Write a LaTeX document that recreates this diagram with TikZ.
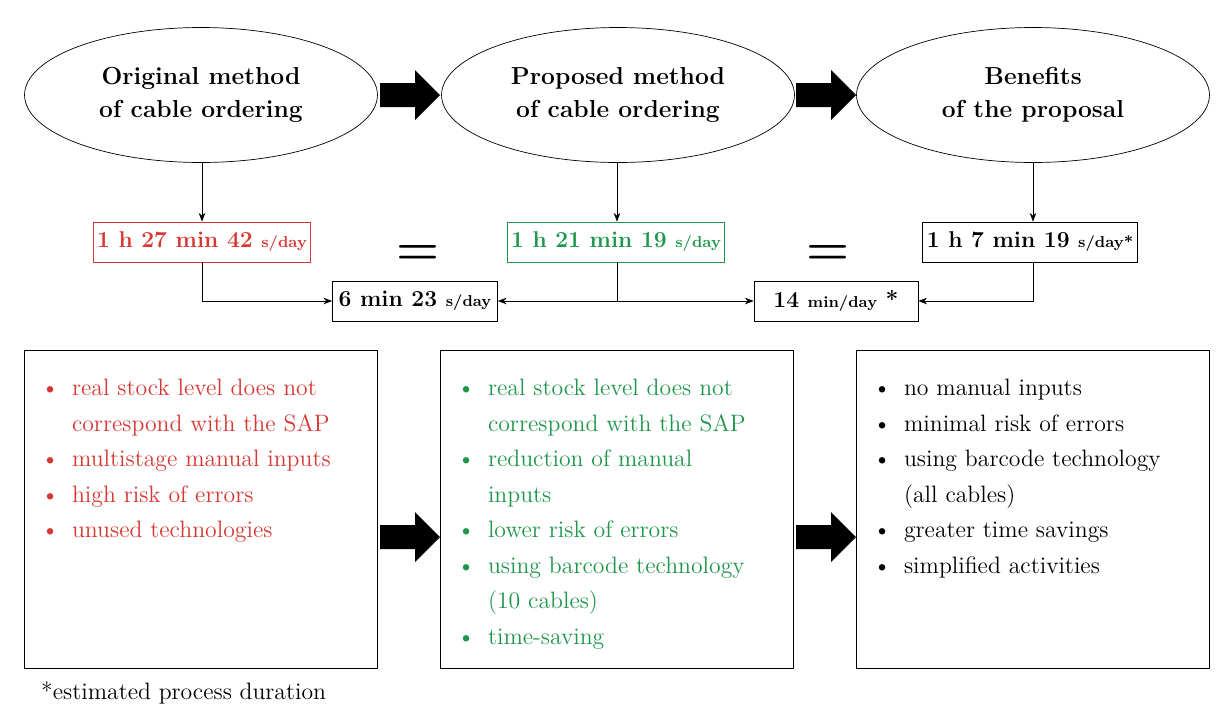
\documentclass[tikz,border=0pt]{standalone}
\usetikzlibrary{shapes.geometric,arrows.meta}
\definecolor{rd}{RGB}{215,55,50}
\definecolor{gn}{RGB}{30,150,75}
\hyphenpenalty=10000
\exhyphenpenalty=10000
\newcommand\itm[1]{\par\hangindent=1.3em\hangafter=1\makebox[1.3em][l]{\textbullet}#1}
\begin{document}
\begin{tikzpicture}[x=0.02cm,y=-0.02cm,
  ell/.style={draw,ellipse,minimum width=7.06cm,minimum height=2.7cm,inner sep=0pt,align=center,font=\fontsize{14}{19}\selectfont\bfseries},
  tbox/.style={draw,minimum height=0.8cm,font=\fontsize{13}{15}\selectfont\bfseries,inner sep=2pt},
  big/.style={draw,minimum width=7.06cm,minimum height=6.36cm},
  lst/.style={text width=6.5cm,align=left,anchor=north west,font=\fontsize{13.5}{20.2}\selectfont},
  con/.style={-{Stealth[length=5pt]},line width=0.4pt}]
\useasboundingbox (0,0) rectangle (1231,718);
\tikzset{bar/.pic={\fill (-29,-12) -- (6,-12) -- (6,-25) -- (31,0) -- (6,25) -- (6,12) -- (-29,12) -- cycle;}}
\node[ell] (e1) at (201,95) {Original method\\of cable ordering};
\node[ell] (e2) at (618,95) {Proposed method\\of cable ordering};
\node[ell] (e3) at (1033,95) {Benefits\\of the proposal};
\pic at (409,95) {bar};
\pic at (825,95) {bar};
\node[tbox,draw=rd,text=rd,minimum width=4.16cm] (t1) at (202,242) {1 h 27 min 42 {\small s/day}};
\node[tbox,draw=gn,text=gn,minimum width=4.18cm] (t2) at (616,242) {1 h 21 min 19 {\small s/day}};
\node[tbox,minimum width=4.3cm] (t3) at (1030,242) {1 h 7 min 19 {\small s/day*}};
\node[tbox,minimum width=3.3cm] (s1) at (415,301) {6 min 23 {\small s/day}};
\node[tbox,minimum width=3.28cm] (s2) at (836,301) {14 {\small min/day} *};
\node[font=\fontsize{28}{28}\selectfont\bfseries] (q1) at (418,255) {=};
\node[font=\fontsize{28}{28}\selectfont\bfseries] (q2) at (828,255) {=};
\coordinate (c1) at (202,162);
\coordinate (c2) at (617,162);
\coordinate (c3) at (1033,162);
\draw[con] (c1) -- (t1.north);
\draw[con] (c2) -- (t2.north -| c2);
\draw[con] (c3) -- (t3.north -| c3);
\draw[con] (t1.south) |- (s1.west);
\draw[con] (t2.south -| c2) |- (s1.east);
\draw[con] (t2.south -| c2) |- (s2.west);
\draw[con] (t3.south -| c3) |- (s2.east);
\node[big] (b1) at (201,509) {};
\node[big] (b2) at (617,509) {};
\node[big] (b3) at (1033,509) {};
\node[lst,text=rd] (l1) at (35,354) {\itm{real stock level does not correspond with the SAP}\itm{multistage manual inputs}\itm{high risk of errors}\itm{unused technologies}};
\node[lst,text=gn] (l2) at (451,354) {\itm{real stock level does not correspond with the SAP}\itm{reduction of manual\newline inputs}\itm{lower risk of errors}\itm{using barcode technology (10 cables)}\itm{time-saving}};
\node[lst,text width=6.6cm] (l3) at (867,354) {\itm{no manual inputs}\itm{minimal risk of errors}\itm{using barcode technology\newline (all cables)}\itm{greater time savings}\itm{simplified activities}};
\pic at (409,537) {bar};
\pic at (825,537) {bar};
\node[anchor=west,font=\fontsize{13.5}{16}\selectfont] (fn) at (35,693) {*estimated process duration};
\end{tikzpicture}
\end{document}
